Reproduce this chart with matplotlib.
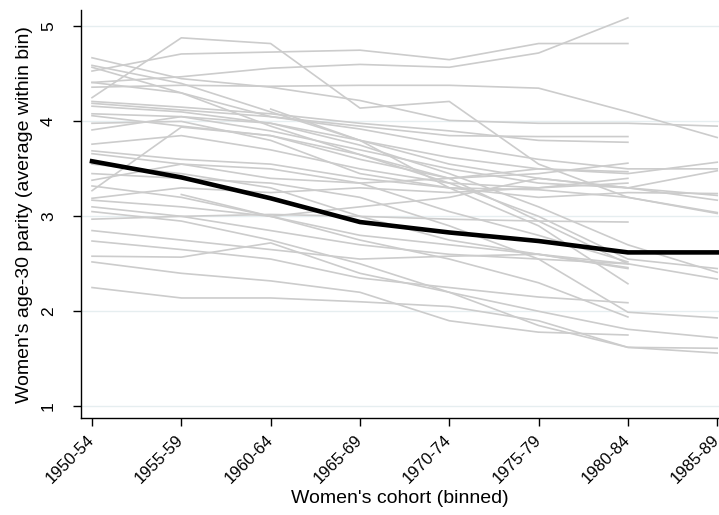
import numpy as np
import matplotlib
matplotlib.use("Agg")
import matplotlib.pyplot as plt
import matplotlib.transforms as mtransforms

nan = np.nan
cohorts = ["1950-54", "1955-59", "1960-64", "1965-69", "1970-74", "1975-79", "1980-84", "1985-89"]

# country-level series (grey)
s01 = [4.25, 4.88, 4.82, 4.14, 4.21, 3.55, 3.20, 3.03]
s02 = [4.53, 4.71, 4.73, 4.75, 4.65, 4.82, 4.82, nan]
s03 = [4.41, 4.47, 4.56, 4.60, 4.57, 4.72, 5.09, nan]
s04 = [4.36, 4.38, 4.37, 4.38, 4.38, 4.35, 4.10, 3.83]
s05 = [4.67, 4.45, 4.36, 4.22, 4.01, 3.98, 3.98, 3.95]
s06 = [4.59, 4.40, 4.10, 3.80, 3.55, 3.40, 3.30, 3.22]
s07 = [4.57, 4.30, 3.95, 3.65, 3.35, 3.00, 2.55, 2.45]
s08 = [4.41, 4.30, 4.05, 3.95, 3.85, 3.84, 3.84, nan]
s09 = [4.21, 4.15, 4.08, 3.98, 3.90, 3.80, 3.78, nan]
s10 = [4.19, 4.12, 4.05, 3.92, 3.75, 3.60, 3.50, 3.50]
s11 = [4.16, 4.10, 3.98, 3.80, 3.62, 3.50, 3.45, 3.57]
s12 = [4.08, 4.05, 3.90, 3.70, 3.50, 3.35, 3.30, 3.48]
s13 = [4.06, 3.95, 3.85, 3.60, 3.40, 3.45, 3.56, nan]
s14 = [3.98, 4.00, 3.80, 3.45, 3.30, 3.20, 3.25, 3.24]
s15 = [3.91, 4.05, 3.98, 3.75, 3.45, 3.10, 2.70, 2.41]
s16 = [3.76, 3.85, 3.70, 3.50, 3.35, 3.30, 3.35, nan]
s17 = [3.69, 3.60, 3.55, 3.40, 3.30, 3.28, 3.20, 3.04]
s18 = [3.66, 3.55, 3.40, 3.35, 3.40, 3.50, 3.47, nan]
s19 = [3.27, 3.94, 3.85, 3.65, 3.40, 2.95, 2.50, 2.34]
s20 = [3.38, 3.55, 3.50, 3.35, 3.05, 2.80, 2.52, nan]
s21 = [3.19, 3.30, 3.25, 3.30, 3.25, 3.30, 3.40, nan]
s22 = [3.17, 3.10, 3.00, 3.10, 3.20, 3.40, 3.30, 3.17]
s23 = [3.10, 3.00, 2.85, 2.70, 2.60, 2.55, 2.50, nan]
s24 = [2.97, 3.00, 3.02, 3.00, 2.97, 2.95, 2.94, nan]
s25 = [2.85, 2.75, 2.65, 2.55, 2.58, 2.60, 2.46, nan]
s26 = [2.74, 2.65, 2.55, 2.35, 2.25, 2.15, 2.09, nan]
s27 = [2.58, 2.57, 2.72, 2.40, 2.20, 2.00, 1.81, 1.72]
s28 = [2.52, 2.40, 2.32, 2.20, 1.90, 1.78, 1.75, nan]
s29 = [2.25, 2.14, 2.14, 2.10, 2.05, 1.90, 1.62, 1.56]
s30 = [nan, 3.23, 3.00, 2.80, 2.70, 2.60, 2.50, nan]
s31 = [nan, nan, 4.13, 3.80, 3.30, 2.90, 2.29, nan]
s32 = [3.45, 3.40, 3.35, 3.20, 2.90, 2.55, 1.99, 1.93]
s33 = [3.32, 3.20, 3.00, 2.75, 2.55, 2.30, 1.94, nan]
s34 = [3.05, 2.95, 2.75, 2.50, 2.20, 1.85, 1.62, 1.61]
s35 = [3.55, 3.45, 3.30, 3.00, 2.75, 2.60, 2.45, nan]

series = [s01, s02, s03, s04, s05, s06, s07, s08, s09, s10, s11, s12, s13, s14, s15, s16, s17,
          s18, s19, s20, s21, s22, s23, s24, s25, s26, s27, s28, s29, s30, s31, s32, s33, s34, s35]

# average (black)
mean_line = [3.58, 3.41, 3.19, 2.94, 2.83, 2.74, 2.62, 2.62]

yticks = [1, 2, 3, 4, 5]

plt.rcParams['font.family'] = ['Liberation Sans', 'DejaVu Sans']

fig = plt.figure(figsize=(7.19, 5.15), dpi=100)
ax = fig.add_axes([0.1127, 0.188, 0.8873, 0.792])

x = np.arange(len(cohorts))
for s in series:
    ax.plot(x, s, color='#cccccc', lw=1.2, zorder=2)
ax.plot(x, mean_line, color='black', lw=3.3, zorder=3, solid_joinstyle='round')

ax.set_xlim(-0.123, 7.02)
ax.set_ylim(0.874, 5.17)
ax.set_yticks(yticks)
ax.set_yticklabels([str(t) for t in yticks], rotation=90, va='center', fontsize=12.5)
ax.set_xticks(x)
ax.set_xticklabels(cohorts, rotation=45, ha='right', va='center', rotation_mode='anchor', fontsize=12)
offset = mtransforms.ScaledTranslation(-4 / 72, 0, fig.dpi_scale_trans)
for lab in ax.get_xticklabels():
    lab.set_transform(lab.get_transform() + offset)
ax.grid(axis='y', color='#e6eef0', lw=1.0, zorder=0)
ax.set_axisbelow(True)
for sp in ['top', 'right']:
    ax.spines[sp].set_visible(False)
ax.spines['left'].set_linewidth(1.0)
ax.spines['bottom'].set_linewidth(1.0)
ax.tick_params(axis='both', direction='out', length=6, width=1.0, colors='black')
ax.tick_params(axis='y', pad=12)
ax.tick_params(axis='x', pad=8)
ax.set_ylabel("Women's age-30 parity (average within bin)", fontsize=14, labelpad=6)
ax.set_xlabel("Women's cohort (binned)", fontsize=14, labelpad=3)

fig.savefig("out.png", dpi=100)
